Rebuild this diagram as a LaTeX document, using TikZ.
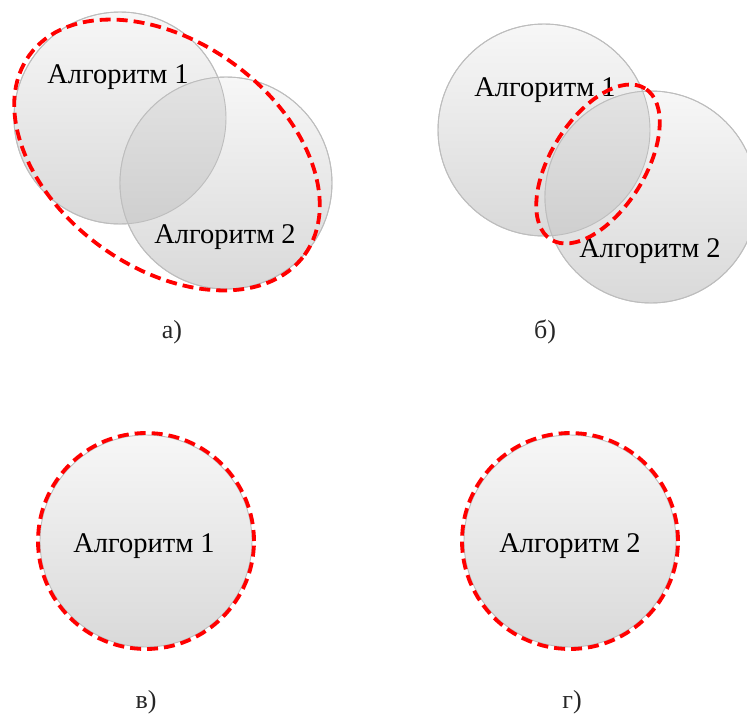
\documentclass[tikz,border=0pt]{standalone}
\usepackage{fontspec}
\setmainfont{Liberation Serif}
\definecolor{ctop}{HTML}{F7F7F7}
\definecolor{cbot}{HTML}{D9D9D9}
\definecolor{otop}{HTML}{E3E3E3}
\definecolor{obot}{HTML}{C6C6C6}
\definecolor{cline}{HTML}{BDBDBD}
\begin{document}
\begin{tikzpicture}[x=1pt,y=-1pt,
  algcirc/.style={circle, minimum size=212pt, inner sep=0pt, draw=cline, line width=0.9pt, top color=ctop, bottom color=cbot},
  ovl/.style={top color=otop, bottom color=obot},
  rim/.style={draw=cline, line width=0.9pt},
  hl/.style={draw=red, line width=3.8pt, dash pattern=on 11pt off 6pt},
  lbl/.style={anchor=base, inner sep=0pt, font=\fontsize{28.5}{32}\selectfont, text=black},
  captxt/.style={anchor=base, inner sep=0pt, font=\fontsize{26}{30}\selectfont, text=black!85}]
\useasboundingbox (0,0) rectangle (747,713);
% ---- panel a
\node[algcirc] (a1) at (120,118) {};
\node[algcirc] (a2) at (226,183) {};
\begin{scope}
  \clip (a1.center) circle (106pt);
  \shade[ovl] (a2.center) circle (106pt);
\end{scope}
\draw[rim] (a1.center) circle (106pt);
\draw[rim] (a2.center) circle (106pt);
\node[lbl] (ta1) at (118,83) {Алгоритм 1};
\node[lbl] (ta2) at (225,243) {Алгоритм 2};
\draw[hl, shift={(167,155)}, rotate=-36] (0,0) ellipse [x radius=170pt, y radius=113pt];
\node[captxt] (capa) at (172,338) {а)};
% ---- panel b
\node[algcirc] (b1) at (544,130) {};
\node[algcirc] (b2) at (651,197) {};
\begin{scope}
  \clip (b1.center) circle (106pt);
  \shade[ovl] (b2.center) circle (106pt);
\end{scope}
\draw[rim] (b1.center) circle (106pt);
\draw[rim] (b2.center) circle (106pt);
\node[lbl] (tb1) at (545,96) {Алгоритм 1};
\node[lbl] (tb2) at (650,257) {Алгоритм 2};
\draw[hl, shift={(598,164)}, rotate=58] (0,0) ellipse [x radius=89pt, y radius=47pt];
\node[captxt] (capb) at (545,338) {б)};
% ---- panel v
\node[algcirc] (v1) at (146,541) {};
\node[lbl] (tv1) at (144,552) {Алгоритм 1};
\draw[hl] (v1.center) circle (108pt);
\node[captxt] (capv) at (146,708) {в)};
% ---- panel g
\node[algcirc] (g1) at (570,541) {};
\node[lbl] (tg1) at (570,552) {Алгоритм 2};
\draw[hl] (g1.center) circle (108pt);
\node[captxt] (capg) at (572,708) {г)};
\end{tikzpicture}
\end{document}
